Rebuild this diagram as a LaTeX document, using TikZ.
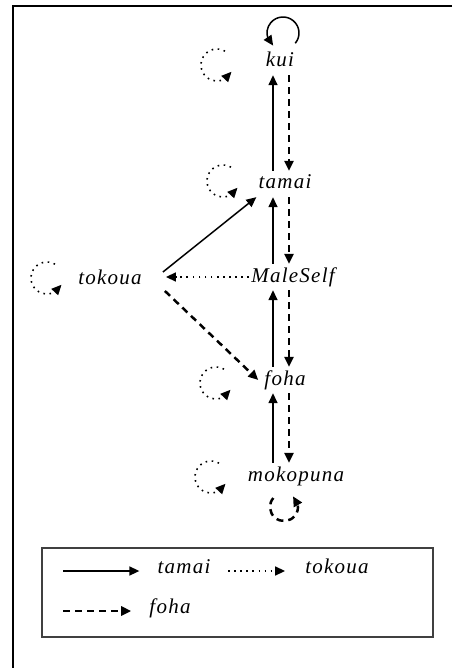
\documentclass[tikz,border=0pt]{standalone}
\usepackage{fontspec}
\setmainfont{Liberation Serif}
\newfontfamily\kinfont[LetterSpace=6]{Liberation Serif}
\usetikzlibrary{arrows.meta,bending}

\begin{document}
\begin{tikzpicture}
  [x=1pt,y=1pt,
   every node/.style={font=\kinfont\itshape\fontsize{21}{24}\selectfont,
     inner xsep=2pt,inner ysep=4pt,text height=14pt,text depth=4pt},
   tamaiedge/.style={line width=1.5pt,-{Triangle[length=10pt,width=9pt]}},
   fohaedge/.style={line width=2.5pt,dash pattern=on 7pt off 5pt,
     -{Triangle[length=10pt,width=9pt]}},
   tokouaedge/.style={line width=1.6pt,dash pattern=on 1.6pt off 4.5pt,
     -{Triangle[length=10pt,width=9pt]}}]
  \useasboundingbox (0,0) rectangle (452,-668);
  \draw[line width=2pt] (452,-6) -- (13,-6) -- (13,-668);

  \node (kui) at (280,-62) {kui};
  \node (tamai) at (285,-184) {tamai};
  \node (self) at (293,-277) {MaleSelf};
  \node (foha) at (285,-380) {foha};
  \node (moko) at (296,-476) {mokopuna};
  \node (tokoua) at (110,-279) {tokoua};

  \coordinate (upx) at (273,0);
  \coordinate (downx) at (289,0);
  \foreach \lo/\hi in {tamai/kui,self/tamai,foha/self,moko/foha}
  {
    \draw[tamaiedge] (\lo.north -| upx) -- (\hi.south -| upx);
    \draw[fohaedge] (\hi.south -| downx) -- (\lo.north -| downx);
  }

  % dotted loops on the left
  \foreach \n/\dx/\dy in {kui/-63/-3,tamai/-62/3,tokoua/-63/1,foha/-69/-3,moko/-85/-1}
    \draw[tokouaedge] ([shift={(\dx,\dy)}]\n.center) ++(60:16)
      arc[start angle=60,end angle=335,radius=16];
  \draw[tamaiedge] ([shift={(3,29)}]kui.center) ++(-40:16)
    arc[start angle=-40,end angle=232,radius=16];
  \draw[fohaedge] ([shift={(-12,-31)}]moko.center) ++(140:14)
    arc[start angle=140,end angle=410,radius=14];

  % edges of tokoua
  \coordinate (tokin) at ([xshift=22pt]tokoua.east);
  \draw[tamaiedge] ([shift={(19,7)}]tokoua.east) -- (tamai.south west);
  \draw[fohaedge] ([shift={(21,-12)}]tokoua.east) -- ([xshift=-4pt]foha.west);
  \draw[tokouaedge] (self.west) -- (tokin |- self.west);

  % legend
  \draw[line width=1.2pt,draw=black!75] (42,-548) rectangle (433,-637);
  \node (legtamai) at (184,-568) {tamai};
  \node (legtokoua) at (337,-568) {tokoua};
  \node (legfoha) at (170,-608) {foha};
  \coordinate (ls1) at (63,-571);
  \coordinate (ls2) at (228,-571);
  \coordinate (ls3) at (63,-611);
  \draw[tamaiedge] (ls1) -- ([shift={(-16,-3)}]legtamai.west);
  \draw[tokouaedge] (ls2) -- ([shift={(-18,-3)}]legtokoua.west);
  \draw[fohaedge] (ls3) -- ([shift={(-16,-3)}]legfoha.west);
\end{tikzpicture}
\end{document}
